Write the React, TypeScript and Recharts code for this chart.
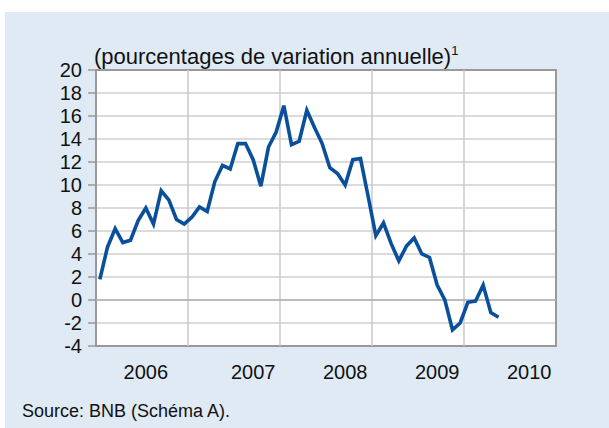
import { LineChart, Line, XAxis, YAxis, CartesianGrid, ReferenceLine, ReferenceArea } from 'recharts';

// monthly annual growth rates, one point per month (index 0 = first month shown)
const values = [
  1.8, 4.6, 6.2, 5.0, 5.2, 6.9, 8.0, 6.6, 9.5, 8.7, 7.0, 6.6,
  7.2, 8.1, 7.7, 10.3, 11.7, 11.4, 13.6, 13.6, 12.2, 9.9, 13.3, 14.6,
  16.9, 13.5, 13.8, 16.5, 15.0, 13.6, 11.5, 11.0, 10.0, 12.2, 12.3, 9.0,
  5.6, 6.7, 4.9, 3.4, 4.7, 5.4, 4.0, 3.7, 1.3, 0.0, -2.6, -2.0,
  -0.2, -0.1, 1.3, -1.1, -1.5,
];

const yearLabels = ['2006', '2007', '2008', '2009', '2010'];
const yearLabelPos = [6, 20, 32, 44, 56];
const yearBounds = [11.5, 23.5, 35.5, 47.5];
const yTicks = [-4, -2, 0, 2, 4, 6, 8, 10, 12, 14, 16, 18, 20];

const FONT = '"Liberation Sans", Arial, sans-serif';

const data = values.map((v, i) => ({ m: i, v }));

function YearTick({ x, y, payload }: any) {
  const idx = yearLabelPos.indexOf(payload.value);
  return (
    <text x={x} y={y} dy="0.71em" textAnchor="middle" fontSize={20} fill="#111" fontFamily={FONT}>
      {yearLabels[idx]}
    </text>
  );
}

export default function App() {
  return (
    <div style={{ position: 'absolute', left: 0, top: 0, width: 609, height: 428, background: '#fff', fontFamily: FONT }}>
      <div style={{ position: 'absolute', left: 5, top: 12, width: 604, height: 416, background: '#dfeaf4' }} />
      <div style={{ position: 'absolute', left: 94, top: 40, fontSize: 22, color: '#111', whiteSpace: 'nowrap', lineHeight: '24px' }}>
        (pourcentages de variation annuelle)<sup style={{ fontSize: 13, position: 'relative', top: -1 }}>1</sup>
      </div>
      <div style={{ position: 'absolute', left: 22, top: 401, fontSize: 18, color: '#111', whiteSpace: 'nowrap' }}>
        Source: BNB (Schéma A).
      </div>
      <div style={{ position: 'absolute', left: 0, top: 0 }}>
        <LineChart width={609} height={428} data={data} margin={{ top: 70, right: 53, left: 36, bottom: 52 }}>
          <CartesianGrid vertical={false} stroke="#cfcfcf" strokeWidth={1.5} fill="#ffffff" />
          {yearBounds.map((b) => (
            <ReferenceLine key={b} x={b} stroke="#c8c8c8" strokeWidth={1.5} />
          ))}
          <ReferenceLine y={0} stroke="#b0b0b0" strokeWidth={1.5} />
          <ReferenceArea x1={-0.5} x2={59.5} y1={-4} y2={20} fill="none" stroke="#999" strokeWidth={2} />
          <XAxis
            type="number"
            dataKey="m"
            domain={[-0.5, 59.5]}
            ticks={yearLabelPos}
            axisLine={false}
            tickSize={0}
            tickMargin={19}
            tick={<YearTick />}
            allowDataOverflow
          />
          <YAxis
            domain={[-4, 20]}
            ticks={yTicks}
            width={60}
            axisLine={false}
            tickLine={{ stroke: '#999', strokeWidth: 1.5 }}
            tickSize={8}
            tickMargin={6}
            tick={{ fontSize: 20, fill: '#111', fontFamily: FONT }}
            interval={0}
          />
          <Line type="linear" dataKey="v" stroke="#0a4f9b" strokeWidth={3.6} dot={false} isAnimationActive={false} />
        </LineChart>
      </div>
    </div>
  );
}
